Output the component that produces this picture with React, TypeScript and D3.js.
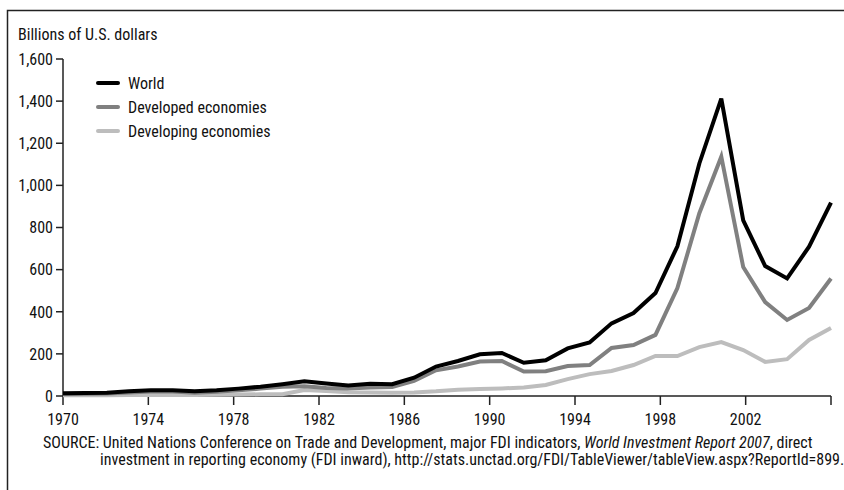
import React from "react";
import * as d3 from "d3";

const years: number[] = [
  1970, 1971, 1972, 1973, 1974, 1975, 1976, 1977, 1978, 1979, 1980, 1981,
  1982, 1983, 1984, 1985, 1986, 1987, 1988, 1989, 1990, 1991, 1992, 1993,
  1994, 1995, 1996, 1997, 1998, 1999, 2000, 2001, 2002, 2003, 2004, 2005,
];
const world: number[] = [
  13, 14, 15, 22, 27, 27, 22, 27, 35, 44, 56, 70, 59, 50, 58, 56, 87, 140,
  166, 198, 204, 158, 170, 226, 254, 345, 394, 489, 711, 1104, 1412, 834,
  617, 558, 709, 918,
];
const developed: number[] = [
  10, 11, 12, 17, 21, 21, 16, 20, 27, 35, 44, 46, 38, 36, 40, 43, 72, 122,
  140, 164, 166, 116, 118, 142, 147, 228, 242, 290, 512, 868, 1136, 612,
  446, 361, 418, 558,
];
const developing: number[] = [
  4, 4, 4, 5, 5, 5, 5, 6, 7, 8, 8, 28, 24, 18, 17, 16, 17, 22, 30, 33, 36,
  40, 52, 80, 104, 119, 147, 190, 190, 232, 256, 218, 162, 175, 266, 323,
];
const seriesNames: string[] = ["World", "Developed economies", "Developing economies"];
const yTicks: number[] = [0, 200, 400, 600, 800, 1000, 1200, 1400, 1600];
const xTickYears: number[] = [1970, 1974, 1978, 1982, 1986, 1990, 1994, 1998, 2002, 2006];
const xTickLabels: string[] = ["1970", "1974", "1978", "1982", "1986", "1990", "1994", "1998", "2002", ""];

const FONT = "'Liberation Sans Narrow', 'Arial Narrow', 'Roboto Condensed', sans-serif";

export default function App() {
  const x0 = 63, x1 = 831, yTop = 59, yBot = 396;
  const xData = d3.scaleLinear().domain([years[0], years[years.length - 1]]).range([x0, x1]);
  const xTick = d3.scaleLinear().domain([1970, 2006]).range([x0, x1]);
  const y = d3.scaleLinear().domain([0, 1600]).range([yBot, yTop]);
  const fmt = d3.format(",");

  const series = [
    { name: seriesNames[2], values: developing, color: "#bdbdbd" },
    { name: seriesNames[1], values: developed, color: "#808080" },
    { name: seriesNames[0], values: world, color: "#000000" },
  ];
  const line = (vals: number[]) =>
    d3.line<number>().x((_, i) => xData(years[i])).y((v) => y(v))(vals) || "";

  const legend = [
    { name: seriesNames[0], color: "#000000" },
    { name: seriesNames[1], color: "#808080" },
    { name: seriesNames[2], color: "#bdbdbd" },
  ];

  return (
    <svg
      width={844}
      height={490}
      style={{ position: "absolute", left: 0, top: 0, background: "#fff" }}
      fontFamily={FONT}
    >
      <rect x={0} y={0} width={844} height={490} fill="#fff" />
      <path d="M7.5,490 V10.5 H844" fill="none" stroke="#222" strokeWidth={1.5} />
      <text x={18} y={40} fontSize={16} fill="#111">Billions of U.S. dollars</text>

      {/* y axis */}
      <line x1={x0} x2={x0} y1={yTop} y2={yBot} stroke="#222" strokeWidth={1.5} />
      {yTicks.map((t) => (
        <g key={t}>
          <line x1={x0 - 7} x2={x0} y1={y(t)} y2={y(t)} stroke="#222" strokeWidth={1.5} />
          <text x={x0 - 10} y={y(t)} dy="0.36em" textAnchor="end" fontSize={16} fill="#111">
            {fmt(t)}
          </text>
        </g>
      ))}

      {/* x axis */}
      <line x1={x0} x2={x1} y1={yBot} y2={yBot} stroke="#222" strokeWidth={1.5} />
      {xTickYears.map((t, i) => (
        <g key={t}>
          <line x1={xTick(t)} x2={xTick(t)} y1={yBot} y2={yBot + 9} stroke="#222" strokeWidth={1.5} />
          <text x={xTick(t)} y={yBot + 29} textAnchor="middle" fontSize={16} fill="#111">
            {xTickLabels[i]}
          </text>
        </g>
      ))}

      {/* lines */}
      {series.map((s) => (
        <path
          key={s.name}
          d={line(s.values)}
          fill="none"
          stroke={s.color}
          strokeWidth={4}
          strokeLinejoin="miter"
        />
      ))}

      {/* legend */}
      {legend.map((l, i) => (
        <g key={l.name} transform={`translate(98, ${83 + i * 24})`}>
          <line x1={0} x2={20} y1={0} y2={0} stroke={l.color} strokeWidth={4} strokeLinecap="round" />
          <text x={30} y={0} dy="0.36em" fontSize={16} fill="#111">{l.name}</text>
        </g>
      ))}

      {/* source */}
      <text x={43} y={448} fontSize={16} fill="#111">
        <tspan>SOURCE: United Nations Conference on Trade and Development, major FDI indicators, </tspan>
        <tspan fontStyle="italic">World Investment Report 2007</tspan>
        <tspan>, direct</tspan>
      </text>
      <text x={100} y={465} fontSize={16} fill="#111">
        investment in reporting economy (FDI inward), http://stats.unctad.org/FDI/TableViewer/tableView.aspx?ReportId=899.
      </text>
    </svg>
  );
}
